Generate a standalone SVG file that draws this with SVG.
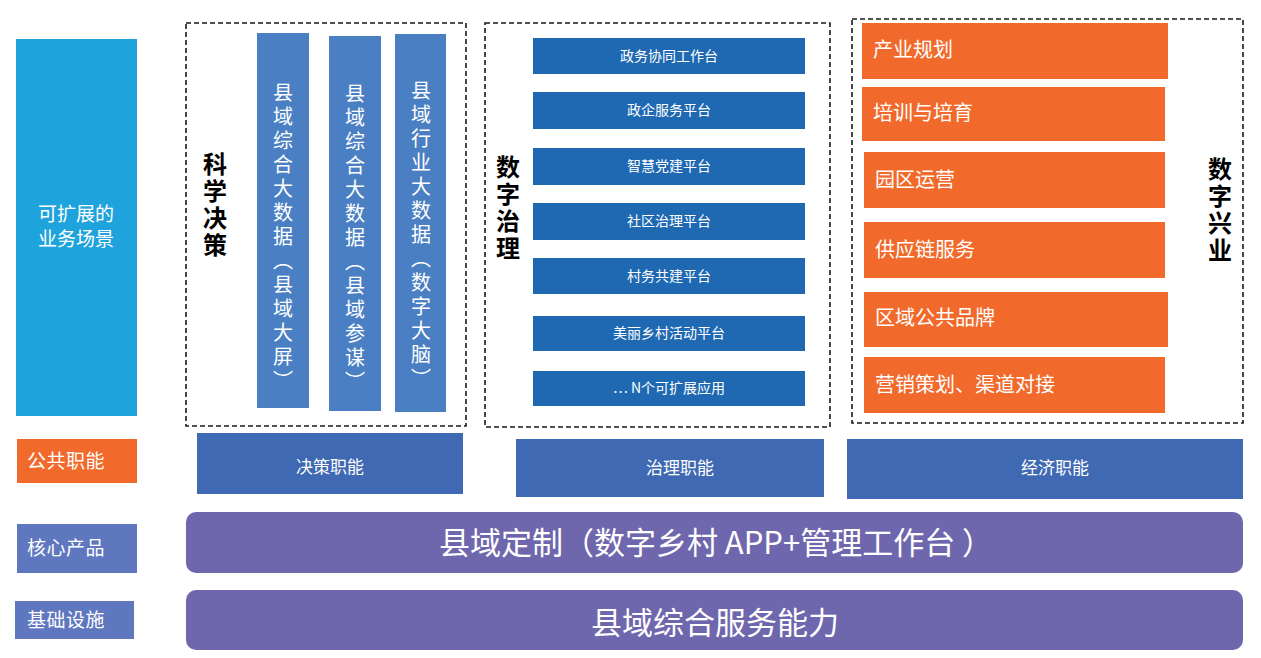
<svg xmlns="http://www.w3.org/2000/svg" width="1261" height="658" viewBox="0 0 1261 658">
<style>
text{font-family:"Noto Sans CJK SC","Noto Sans",sans-serif;}
.w{fill:#ffffff;}
.dash{fill:none;stroke:#1a1a1a;stroke-width:1.6;stroke-dasharray:5 3;}
.vbar{fill:#4A80C3;}
.mbar{fill:#1F69B3;}
.obar{fill:#F26A2B;}
.fn{fill:#3F69B3;}
.lbl{fill:#5E77BF;}
.pur{fill:#6F67AD;}
.vt{writing-mode:vertical-rl;font-size:20px;letter-spacing:4px;fill:#ffffff;}
.vh{writing-mode:vertical-rl;font-size:24px;font-weight:bold;letter-spacing:3px;fill:#000000;}
.mt{font-size:14px;fill:#ffffff;text-anchor:middle;}
.ot{font-size:20px;fill:#ffffff;}
.ft{font-size:17px;fill:#ffffff;text-anchor:middle;}
.lt{font-size:19px;fill:#ffffff;}
.pt{font-size:31px;fill:#ffffff;text-anchor:middle;}
</style>
<g id="left-labels">
<g id="scene-label"><rect x="16" y="39" width="121" height="377" fill="#1FA3DD"/><text class="lt" x="76" y="221" text-anchor="middle">可扩展的</text><text class="lt" x="76" y="246" text-anchor="middle">业务场景</text></g>
<g id="public-label"><rect x="17" y="439" width="120" height="44" fill="#F26A2B"/><text class="lt" x="27" y="468" letter-spacing="0.5">公共职能</text></g>
<g id="core-label"><rect class="lbl" x="17" y="524" width="120" height="49"/><text class="lt" x="27" y="555" letter-spacing="0.5">核心产品</text></g>
<g id="infra-label"><rect class="lbl" x="15" y="601" width="119" height="38"/><text class="lt" x="27" y="627" letter-spacing="0.5">基础设施</text></g>
</g>
<g id="decision">
<rect class="dash" x="186" y="23" width="280" height="403"/>
<text class="vh" x="215" y="152">科学决策</text>
<g id="bar1"><rect class="vbar" x="257" y="33" width="52" height="375"/><text class="vt" x="283" y="82">县域综合大数据（县域大屏）</text></g>
<g id="bar2"><rect class="vbar" x="329" y="36" width="52" height="375"/><text class="vt" x="355" y="83">县域综合大数据（县域参谋）</text></g>
<g id="bar3"><rect class="vbar" x="395" y="34" width="51" height="378"/><text class="vt" x="421" y="80">县域行业大数据（数字大脑）</text></g>
</g>
<g id="governance">
<rect class="dash" x="485" y="23" width="345" height="404"/>
<text class="vh" x="508" y="155">数字治理</text>
<g id="m1"><rect class="mbar" x="533" y="38" width="272" height="36"/><text class="mt" x="669" y="61">政务协同工作台</text></g>
<g id="m2"><rect class="mbar" x="533" y="92" width="272" height="37"/><text class="mt" x="669" y="115">政企服务平台</text></g>
<g id="m3"><rect class="mbar" x="533" y="148" width="272" height="37"/><text class="mt" x="669" y="171">智慧党建平台</text></g>
<g id="m4"><rect class="mbar" x="533" y="203" width="272" height="37"/><text class="mt" x="669" y="226">社区治理平台</text></g>
<g id="m5"><rect class="mbar" x="533" y="258" width="272" height="36"/><text class="mt" x="669" y="281">村务共建平台</text></g>
<g id="m6"><rect class="mbar" x="533" y="316" width="272" height="35"/><text class="mt" x="669" y="338">美丽乡村活动平台</text></g>
<g id="m7"><rect class="mbar" x="533" y="371" width="272" height="35"/><text class="mt" x="669" y="393">… N个可扩展应用</text></g>
</g>
<g id="industry">
<rect class="dash" x="852" y="19" width="391" height="404"/>
<text class="vh" x="1220" y="157">数字兴业</text>
<g id="o1"><rect class="obar" x="862" y="23" width="306" height="56"/><text class="ot" x="873" y="57">产业规划</text></g>
<g id="o2"><rect class="obar" x="862" y="87" width="303" height="54"/><text class="ot" x="873" y="120">培训与培育</text></g>
<g id="o3"><rect class="obar" x="864" y="152" width="301" height="56"/><text class="ot" x="875" y="187">园区运营</text></g>
<g id="o4"><rect class="obar" x="864" y="222" width="301" height="56"/><text class="ot" x="875" y="257">供应链服务</text></g>
<g id="o5"><rect class="obar" x="864" y="292" width="304" height="55"/><text class="ot" x="875" y="325">区域公共品牌</text></g>
<g id="o6"><rect class="obar" x="864" y="357" width="301" height="56"/><text class="ot" x="875" y="392">营销策划、渠道对接</text></g>
</g>
<g id="functions">
<g id="f1"><rect class="fn" x="197" y="433" width="266" height="61"/><text class="ft" x="330" y="473">决策职能</text></g>
<g id="f2"><rect class="fn" x="516" y="439" width="308" height="58"/><text class="ft" x="680" y="474">治理职能</text></g>
<g id="f3"><rect class="fn" x="847" y="439" width="396" height="60"/><text class="ft" x="1055" y="474">经济职能</text></g>
</g>
<g id="core"><rect class="pur" x="186" y="512" width="1057" height="61" rx="10"/><text class="pt" x="716" y="554">县域定制（数字乡村 APP+管理工作台 ）</text></g>
<g id="infra"><rect class="pur" x="186" y="590" width="1057" height="60" rx="10"/><text class="pt" x="715" y="634">县域综合服务能力</text></g>
<g id="connectors"/>
</svg>
